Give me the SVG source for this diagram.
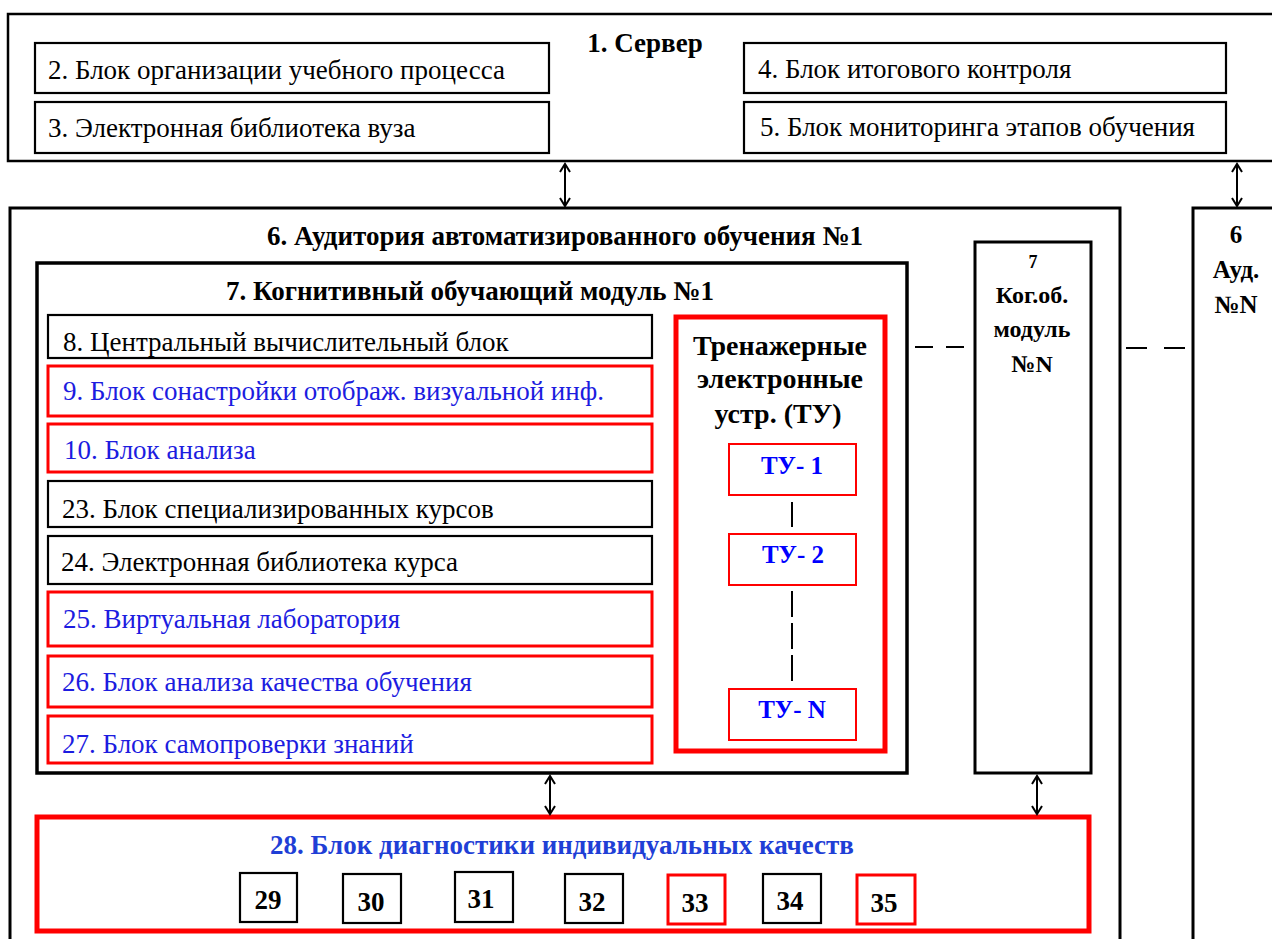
<svg xmlns="http://www.w3.org/2000/svg" width="1272" height="939" viewBox="0 0 1272 939">
<style>
.t{font-size:27px;fill:#000;}
.tb{font-size:27px;fill:#1c1ce0;}
.h{font-size:27px;font-weight:bold;fill:#000;}
.tu{font-size:25px;font-weight:bold;fill:#0000ff;}
.n{font-size:27px;font-weight:bold;fill:#000;}
.k{fill:#fff;stroke:#000;stroke-width:2.2;}
.r{fill:#fff;stroke:#ff0000;stroke-width:3;}
.conn{fill:none;stroke:#000;stroke-width:2;}
.dash{fill:none;stroke:#000;stroke-width:2;stroke-dasharray:18 13;}
</style>
<rect width="1272" height="939" fill="#fff"/>

<g id="server">
<rect x="8" y="14" width="1290" height="147" fill="#fff" stroke="#000" stroke-width="2.5"/>
<text class="h" font-family="Liberation Serif" x="645" y="52" text-anchor="middle">1. Сервер</text>
</g>
<g id="n2"><rect class="k" x="35" y="43" width="514" height="50"/><text class="t" font-family="Liberation Serif" x="48" y="79">2. Блок организации учебного процесса</text></g>
<g id="n3"><rect class="k" x="35" y="102" width="514" height="51"/><text class="t" font-family="Liberation Serif" x="48" y="137">3. Электронная библиотека вуза</text></g>
<g id="n4"><rect class="k" x="744" y="43" width="482" height="50"/><text class="t" font-family="Liberation Serif" x="758" y="78">4. Блок итогового контроля</text></g>
<g id="n5"><rect class="k" x="744" y="102" width="482" height="51"/><text class="t" font-family="Liberation Serif" x="760" y="136">5. Блок мониторинга этапов обучения</text></g>

<g id="aud1">
<rect x="10" y="208" width="1110" height="760" fill="#fff" stroke="#000" stroke-width="3"/>
<text class="h" font-family="Liberation Serif" x="565" y="245" text-anchor="middle">6. Аудитория автоматизированного обучения №1</text>
</g>
<g id="audN">
<rect x="1193" y="208" width="200" height="760" fill="#fff" stroke="#000" stroke-width="3"/>
<text class="h" font-family="Liberation Serif" x="1236" y="243" text-anchor="middle" font-size="25" style="font-size:25px">6</text>
<text class="h" font-family="Liberation Serif" x="1236" y="278" text-anchor="middle" style="font-size:25px">Ауд.</text>
<text class="h" font-family="Liberation Serif" x="1236" y="313" text-anchor="middle" style="font-size:25px">№N</text>
</g>

<g id="kom1">
<rect x="37" y="263" width="870" height="510" fill="#fff" stroke="#000" stroke-width="3.5"/>
<text class="h" font-family="Liberation Serif" x="470" y="300" text-anchor="middle">7. Когнитивный обучающий модуль №1</text>
</g>
<g id="komN">
<rect x="975" y="242" width="116" height="531" fill="#fff" stroke="#000" stroke-width="3"/>
<text class="h" font-family="Liberation Serif" x="1033" y="268" text-anchor="middle" style="font-size:18px">7</text>
<text class="h" font-family="Liberation Serif" x="1032" y="303" text-anchor="middle" style="font-size:24px">Ког.об.</text>
<text class="h" font-family="Liberation Serif" x="1032" y="337" text-anchor="middle" style="font-size:24px">модуль</text>
<text class="h" font-family="Liberation Serif" x="1032" y="372" text-anchor="middle" style="font-size:24px">№N</text>
</g>

<g id="n8"><rect class="k" x="48" y="315" width="604" height="43"/><text class="t" font-family="Liberation Serif" x="63" y="351">8. Центральный вычислительный блок</text></g>
<g id="n9"><rect class="r" x="48" y="366" width="604" height="50"/><text class="tb" font-family="Liberation Serif" x="63" y="400">9. Блок сонастройки отображ. визуальной инф.</text></g>
<g id="n10"><rect class="r" x="48" y="424" width="604" height="48"/><text class="tb" font-family="Liberation Serif" x="64" y="459">10. Блок анализа</text></g>
<g id="n23"><rect class="k" x="48" y="481" width="604" height="46"/><text class="t" font-family="Liberation Serif" x="62" y="518">23. Блок специализированных курсов</text></g>
<g id="n24"><rect class="k" x="48" y="536" width="604" height="48"/><text class="t" font-family="Liberation Serif" x="61" y="571">24. Электронная библиотека курса</text></g>
<g id="n25"><rect class="r" x="48" y="592" width="604" height="54"/><text class="tb" font-family="Liberation Serif" x="63" y="628">25. Виртуальная лаборатория</text></g>
<g id="n26"><rect class="r" x="48" y="656" width="604" height="51"/><text class="tb" font-family="Liberation Serif" x="62" y="691">26. Блок анализа качества обучения</text></g>
<g id="n27"><rect class="r" x="48" y="716" width="604" height="47"/><text class="tb" font-family="Liberation Serif" x="62" y="753">27. Блок самопроверки знаний</text></g>

<g id="tu">
<rect x="676" y="317" width="209" height="434" fill="#fff" stroke="#ff0000" stroke-width="5"/>
<text class="h" font-family="Liberation Serif" x="780" y="355" text-anchor="middle" style="font-size:28px">Тренажерные</text>
<text class="h" font-family="Liberation Serif" x="780" y="388" text-anchor="middle" style="font-size:28px">электронные</text>
<text class="h" font-family="Liberation Serif" x="778" y="423" text-anchor="middle" style="font-size:28px">устр. (ТУ)</text>
</g>
<g id="tu1"><rect x="729" y="444" width="127" height="51" fill="#fff" stroke="#ff0000" stroke-width="2"/><text class="tu" font-family="Liberation Serif" x="792" y="474" text-anchor="middle">ТУ- 1</text></g>
<g id="tu2"><rect x="729" y="534" width="127" height="51" fill="#fff" stroke="#ff0000" stroke-width="2"/><text class="tu" font-family="Liberation Serif" x="793" y="563" text-anchor="middle">ТУ- 2</text></g>
<g id="tuN"><rect x="729" y="689" width="127" height="51" fill="#fff" stroke="#ff0000" stroke-width="2"/><text class="tu" font-family="Liberation Serif" x="792" y="718" text-anchor="middle">ТУ- N</text></g>

<g id="n28">
<rect x="37" y="817" width="1052" height="114" fill="#fff" stroke="#ff0000" stroke-width="5"/>
<text class="h" font-family="Liberation Serif" x="562" y="854" text-anchor="middle" style="fill:#1f3fd6">28. Блок диагностики индивидуальных качеств</text>
</g>
<g id="n29"><rect class="k" x="240" y="873" width="57" height="49"/><text class="n" font-family="Liberation Serif" x="268" y="909" text-anchor="middle">29</text></g>
<g id="n30"><rect class="k" x="343" y="874" width="58" height="49"/><text class="n" font-family="Liberation Serif" x="371" y="911" text-anchor="middle">30</text></g>
<g id="n31"><rect class="k" x="455" y="872" width="58" height="50"/><text class="n" font-family="Liberation Serif" x="481" y="908" text-anchor="middle">31</text></g>
<g id="n32"><rect class="k" x="565" y="874" width="58" height="49"/><text class="n" font-family="Liberation Serif" x="592" y="911" text-anchor="middle">32</text></g>
<g id="n33"><rect class="r" x="668" y="875" width="57" height="49"/><text class="n" font-family="Liberation Serif" x="695" y="912" text-anchor="middle">33</text></g>
<g id="n34"><rect class="k" x="763" y="874" width="58" height="49"/><text class="n" font-family="Liberation Serif" x="790" y="910" text-anchor="middle">34</text></g>
<g id="n35"><rect class="r" x="857" y="875" width="58" height="49"/><text class="n" font-family="Liberation Serif" x="884" y="912" text-anchor="middle">35</text></g>

<g id="connectors">
<path class="conn" d="M565,164 V206 M560,172 L565,164 L570,172 M560,198 L565,206 L570,198"/>
<path class="conn" d="M1237,164 V206 M1232,172 L1237,164 L1242,172 M1232,198 L1237,206 L1242,198"/>
<path class="conn" d="M550,776 V814 M545,784 L550,776 L555,784 M545,806 L550,814 L555,806"/>
<path class="conn" d="M1037,776 V814 M1032,784 L1037,776 L1042,784 M1032,806 L1037,814 L1042,806"/>
<line class="dash" x1="915" y1="347" x2="967" y2="347"/>
<line class="dash" x1="1126" y1="348" x2="1186" y2="348" style="stroke-dasharray:21 17"/>
<line class="conn" x1="792" y1="502" x2="792" y2="527"/>
<line class="conn" x1="792" y1="591" x2="792" y2="683" style="stroke-dasharray:26 6"/>
</g>
</svg>
